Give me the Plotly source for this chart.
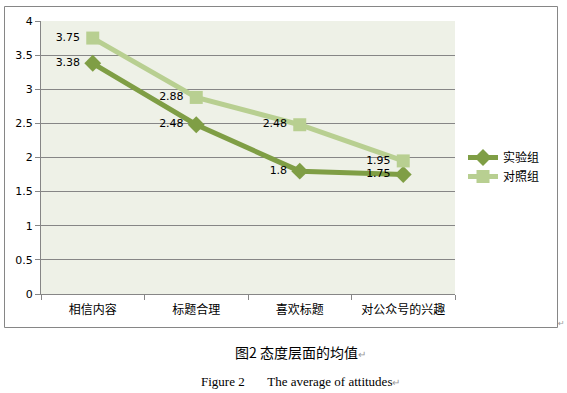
import plotly.graph_objects as go

categories = ["相信内容", "标题合理", "喜欢标题", "对公众号的兴趣"]
exp_values = [3.38, 2.48, 1.8, 1.75]
ctrl_values = [3.75, 2.88, 2.48, 1.95]
exp_name = "实验组"
ctrl_name = "对照组"
y_ticks = [0, 0.5, 1, 1.5, 2, 2.5, 3, 3.5, 4]

W, H = 567, 393
def px(x): return x / W
def py(y): return 1 - y / H

fig = go.Figure()
fig.add_trace(go.Scatter(
    x=categories, y=exp_values, name=exp_name, mode="lines+markers+text",
    line=dict(color="#7F9E45", width=5),
    marker=dict(symbol="diamond", size=13, color="#7F9E45"),
    text=[f"{v}\u00a0" for v in exp_values], textposition="middle left",
    textfont=dict(family="DejaVu Sans", size=11, color="#000000"),
))
fig.add_trace(go.Scatter(
    x=categories, y=ctrl_values, name=ctrl_name, mode="lines+markers+text",
    line=dict(color="#B8CF91", width=5),
    marker=dict(symbol="square", size=13, color="#B8CF91"),
    text=[f"{v}\u00a0" for v in ctrl_values], textposition="middle left",
    textfont=dict(family="DejaVu Sans", size=11, color="#000000"),
))

fig.update_layout(
    width=W, height=H, margin=dict(l=0, r=0, t=0, b=0),
    paper_bgcolor="white", plot_bgcolor="#EEF1E7",
    font=dict(family="DejaVu Sans", size=11, color="#000000"),
    xaxis=dict(domain=[px(41), px(455)], type="category", range=[-0.5, 3.5], automargin=False,
               tickson="boundaries", ticks="outside", ticklen=5, tickcolor="#868686",
               showline=True, linecolor="#868686", linewidth=1, showgrid=False,
               tickfont=dict(family="Noto Sans CJK SC", size=12), ticklabelstandoff=5),
    yaxis=dict(domain=[py(294), py(21)], range=[0, 4], tickvals=y_ticks, automargin=False,
               ticktext=[f"{v:g}" for v in y_ticks],
               ticks="outside", ticklen=5, tickcolor="#868686",
               showline=True, linecolor="#868686", linewidth=1,
               showgrid=True, gridcolor="#868686", gridwidth=1, zeroline=False,
               tickfont=dict(family="DejaVu Sans", size=11)),
    legend=dict(x=px(463), y=py(143), xanchor="left", yanchor="top",
                bgcolor="rgba(0,0,0,0)", font=dict(family="Noto Sans CJK SC", size=12),
                itemwidth=30, tracegroupgap=2),
    showlegend=True,
)

fig.add_shape(type="rect", xref="paper", yref="paper",
              x0=px(4.5), x1=px(557.5), y0=py(327.5), y1=py(6.5),
              line=dict(color="#868686", width=1), fillcolor="rgba(0,0,0,0)", layer="below")

fig.add_annotation(xref="paper", yref="paper", x=px(300), y=py(352), showarrow=False,
                   text="图2\u00a0态度层面的均值<span style='color:#999;font-size:10px'>↵</span>",
                   font=dict(family="Noto Sans CJK SC", size=14, color="#000"), xanchor="center", yanchor="middle")
fig.add_annotation(xref="paper", yref="paper", x=px(300), y=py(381), showarrow=False,
                   text="Figure 2\u00a0\u00a0\u00a0\u00a0\u00a0\u00a0 The average of attitudes<span style='color:#999;font-size:10px'>↵</span>",
                   font=dict(family="Liberation Serif", size=13, color="#000"), xanchor="center", yanchor="middle")
fig.add_annotation(xref="paper", yref="paper", x=px(561), y=py(323), showarrow=False,
                   text="↵", font=dict(family="DejaVu Sans", size=8, color="#999"),
                   xanchor="center", yanchor="middle")

fig.write_html("out.html", config={"displayModeBar": False},
               post_script="document.body.style.margin='0px';document.body.style.overflow='hidden';")
